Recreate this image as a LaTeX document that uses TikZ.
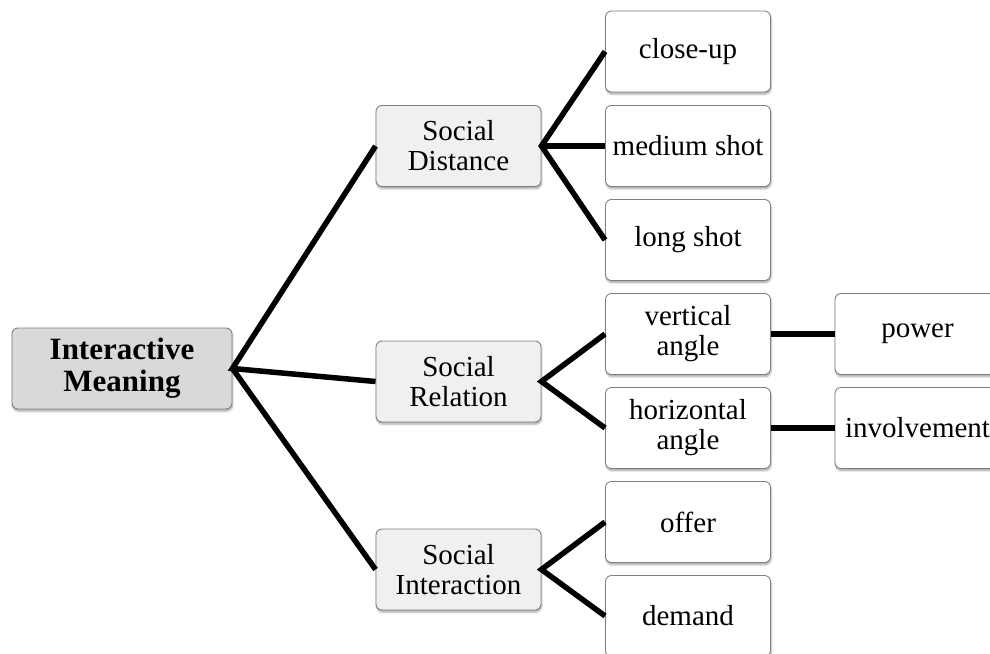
\documentclass[tikz,border=0pt]{standalone}
\usepackage{fontspec}
\setmainfont{Liberation Serif}
\usetikzlibrary{shadows.blur}
\definecolor{rootfill}{HTML}{D9D9D9}
\definecolor{midfill}{HTML}{F0F0F0}
\definecolor{boxline}{HTML}{808080}
\tikzset{
  box/.style={draw=boxline, line width=0.9pt, rounded corners=6pt, align=center,
    inner sep=0pt, minimum width=165pt, minimum height=81pt, fill=white,
    font=\fontsize{29}{30}\selectfont,
    blur shadow={shadow xshift=0.6pt, shadow yshift=-2.2pt, shadow blur steps=6, shadow opacity=35}},
  rootbox/.style={box, fill=rootfill, minimum width=220pt,
    font=\fontsize{31}{32}\selectfont\bfseries},
  midbox/.style={box, fill=midfill},
  link/.style={line width=5.5pt, black}
}
\begin{document}
\begin{tikzpicture}[x=1pt,y=-1pt]
\useasboundingbox (0,0) rectangle (990,653);

% root and second level
\node[rootbox] (im) at (122,368.5) {Interactive\\Meaning};
\node[midbox] (sd) at (458.5,146) {Social\\Distance};
\node[midbox] (sr) at (458.5,381.5) {Social\\Relation};
\node[midbox] (si) at (458.5,569.5) {Social\\Interaction};

% third level
\node[box] (cu) at (688,51.5) {close-up};
\node[box] (ms) at (688,146) {medium shot};
\node[box] (ls) at (688,240) {long shot};
\node[box] (va) at (688,334) {vertical\\angle};
\node[box] (ha) at (688,428) {horizontal\\angle};
\node[box] (of) at (688,522) {offer};
\node[box] (de) at (688,616) {demand};

% fourth level
\node[box] (pw) at (917.5,334) {power};
\node[box] (iv) at (917.5,428) {involvement};

% connectors
\draw[link] (sd.west) -- (im.east) -- (sr.west);
\draw[link] (im.east) -- (si.west);
\draw[link] (cu.west) -- (sd.east) -- (ls.west);
\draw[link] (sd.east) -- (ms.west);
\draw[link] (va.west) -- (sr.east) -- (ha.west);
\draw[link] (of.west) -- (si.east) -- (de.west);
\draw[link] (va.east) -- (pw.west);
\draw[link] (ha.east) -- (iv.west);
\end{tikzpicture}
\end{document}
